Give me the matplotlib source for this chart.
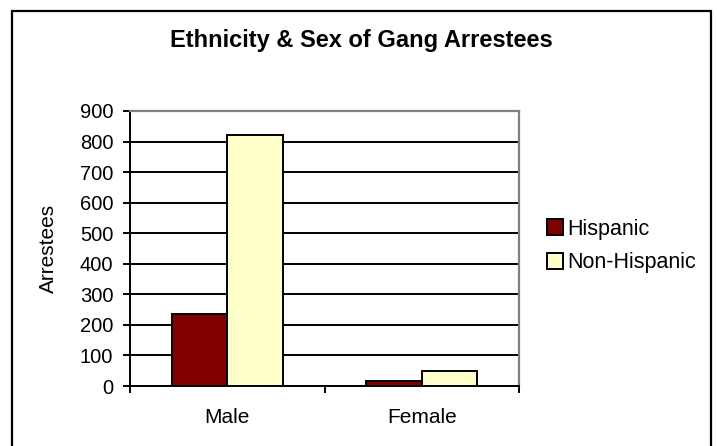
import matplotlib
matplotlib.use('Agg')
import matplotlib.pyplot as plt
from matplotlib.patches import Rectangle
import numpy as np

plt.rcParams['font.family'] = ['Liberation Sans', 'DejaVu Sans']

# data
categories = ['Male', 'Female']
series_names = ['Hispanic', 'Non-Hispanic']
hispanic = [236, 18]
non_hispanic = [820, 50]
series_colors = ['#800000', '#FFFFCC']
y_ticks = [0, 100, 200, 300, 400, 500, 600, 700, 800, 900]

W, H = 717, 446
fig = plt.figure(figsize=(W / 100, H / 100), dpi=100)

# plot area in pixels: left 130, right 519, top 111, bottom 386
ax = fig.add_axes([130 / W, 1 - 386 / H, (519 - 130) / W, (386 - 111) / H])

x = np.arange(len(categories))
bw = 1 / 3.5
for i, (vals, name, col) in enumerate(zip([hispanic, non_hispanic], series_names, series_colors)):
    ax.bar(x - bw / 2 + i * bw, vals, bw, color=col, edgecolor='black',
           linewidth=1.4, label=name, zorder=3)

ax.set_xlim(-0.5, 1.5)
ax.set_ylim(0, 900)
ax.set_yticks(y_ticks)
ax.set_yticklabels([str(t) for t in y_ticks], fontsize=14.5)
ax.yaxis.grid(True, color='black', linewidth=1.4, zorder=0)
ax.set_axisbelow(True)

ax.set_xticks([-0.5, 0.5, 1.5])
ax.set_xticklabels([])
ax.set_xticks(x, minor=True)
ax.set_xticklabels(categories, minor=True, fontsize=15)
ax.tick_params(axis='x', which='minor', length=0, pad=16)
ax.tick_params(axis='x', which='major', direction='out', length=5, width=1.4)
ax.tick_params(axis='y', direction='out', length=5, width=1.4, pad=7)

ax.spines['left'].set_linewidth(1.4)
ax.spines['bottom'].set_linewidth(1.4)
for s in ['top', 'right']:
    ax.spines[s].set_color('#808080')
    ax.spines[s].set_linewidth(1.6)

ax.set_ylabel('Arrestees', fontsize=15, labelpad=16)

fig.text(361 / W, 1 - 41 / H, 'Ethnicity & Sex of Gang Arrestees',
         ha='center', va='center', fontsize=17, fontweight='bold')

leg = ax.legend(loc='center left', bbox_to_anchor=(547 / W, 1 - 246 / H),
                bbox_transform=fig.transFigure, frameon=False, fontsize=15.5,
                handlelength=0.72, handleheight=0.72, handletextpad=0.2,
                labelspacing=0.6, borderaxespad=0, borderpad=0)

# outer chart border
fig.patches.append(Rectangle((12 / W, -0.05), (711 - 12) / W, 1.05 - 11 / H,
                             transform=fig.transFigure, fill=False,
                             edgecolor='black', linewidth=1.6, clip_on=False))

fig.savefig('out.png', dpi=100)
